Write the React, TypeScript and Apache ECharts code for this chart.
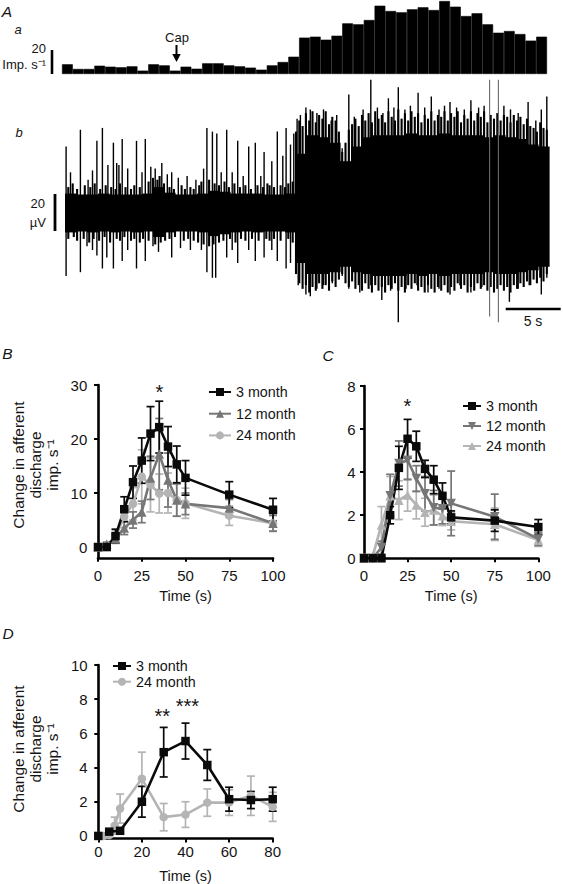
import React, { useEffect, useRef } from 'react';
import * as echarts from 'echarts';

const FONT = '"Liberation Sans", Arial, Helvetica, sans-serif';

// ---------- Panel A(a): rate histogram, imp/s in 1-s bins ----------
const histValues = [
  8.1, 4.2, 4.2, 6.9, 6.1, 5.6, 6.4, 2.8, 8.1, 7.2,
  2.8, 6.1, 4.4, 8.9, 8.9, 7.2, 6.4, 5.3, 3.6, 7.2,
  10, 14.4, 30.3, 31.1, 28.6, 31.9, 42.2, 41.4, 45, 56.9,
  52.5, 51.4, 53.9, 55.6, 53.3, 60.8, 56.1, 48.3, 50.6, 41.4,
  34.4, 35.8, 33.3, 27.8, 31.1,
];

// ---------- Panel A(b): raw nerve trace (µV), read as dense core + spikes ----------
const traceCoreTop = [
  10.5, 10, 10, 10.5, 10, 10, 10, 10.5, 14, 11, 10, 10, 10.5, 12, 11.5, 10.5, 10.5, 10.5, 10, 10, 10.5,
  32, 42, 41, 38, 28, 36, 41, 42, 42, 42, 43, 42, 42, 43, 42, 42, 42, 41, 42, 41, 40, 37, 36,
];
const traceCoreBottom = [
  -10.5, -10, -10.5, -10, -10.5, -10, -10.5, -10, -13, -10.5, -10, -10, -10.5, -12.5, -11.5, -10.5, -10, -10.5, -10, -10, -10.5,
  -27, -33, -33, -32, -29, -32, -33, -34, -34, -34, -33, -34, -33, -34, -33, -33, -33, -32, -33, -33, -32, -31, -29,
];
const traceUpSpikes = [
  [0.1, 36], [0.5, 22], [1.4, 45], [2.1, 18], [2.5, 23], [2.9, 39], [3.4, 46], [3.9, 26], [4.4, 38], [4.7, 27],
  [4.9, 26], [5.2, 40], [5.7, 24], [6.5, 39], [7.0, 22], [7.3, 40], [7.8, 25], [8.2, 24], [8.8, 27], [9.3, 21],
  [9.7, 22], [10.3, 19], [11.1, 20], [11.9, 18], [12.6, 24], [12.9, 46], [13.4, 44], [13.8, 43], [14.2, 22], [14.7, 45],
  [15.2, 22], [15.7, 39], [16.2, 20], [16.7, 36], [17.3, 38], [17.8, 20], [18.1, 33], [18.8, 28], [19.3, 44], [19.8, 31],
  [20.1, 46], [20.5, 37], [20.8, 43], [21.1, 51], [21.4, 53], [21.9, 57], [22.3, 56], [22.9, 54], [23.5, 56], [24.2, 50],
  [24.7, 53], [25.2, 35], [25.8, 64], [26.3, 52], [27.1, 56], [27.8, 72], [28.4, 57], [28.9, 54], [29.4, 62], [29.9, 57],
  [30.3, 68], [30.9, 56], [31.4, 58], [32.1, 65], [32.7, 57], [33.3, 63], [34.0, 56], [34.5, 58], [35.0, 60], [35.6, 57],
  [36.3, 56], [36.9, 61], [37.6, 57], [38.1, 58], [39.9, 58], [40.5, 56], [41.2, 54], [42.1, 60], [42.8, 50], [43.3, 56],
  [43.8, 63],
];
const traceDownSpikes = [
  [0.1, -34], [1.4, -32], [2.0, -18], [2.5, -20], [2.9, -23], [3.4, -30], [3.8, -24], [4.4, -30], [5.2, -26], [5.7, -20],
  [6.5, -30], [7.3, -26], [8.0, -18], [8.5, -21], [9.7, -24], [10.5, -19], [11.4, -20], [12.4, -20], [12.9, -32], [13.4, -35],
  [13.7, -35], [14.7, -24], [15.2, -20], [15.7, -27], [16.7, -20], [17.3, -26], [18.1, -24], [18.8, -20], [19.3, -26], [20.1, -30],
  [20.5, -27], [21.2, -39], [21.9, -44], [22.3, -45], [22.9, -41], [23.5, -39], [24.3, -38], [25.2, -34], [25.8, -41], [26.8, -43],
  [27.8, -39], [28.8, -47], [29.6, -42], [30.3, -59], [31.0, -41], [32.0, -39], [33.0, -43], [34.0, -41], [35.0, -44], [35.9, -39],
  [36.9, -43], [37.9, -40], [40.4, -48], [41.2, -41], [42.2, -39], [43.3, -44], [43.8, -35],
];
// ragged fringe along the edges of the dense band
const traceFringeUp = [
  [0.3, 14], [0.7, 16], [1.1, 13], [1.8, 15], [2.3, 14], [2.7, 16], [3.2, 13], [3.7, 15], [4.2, 14], [4.6, 13],
  [5.0, 16], [5.5, 14], [6.0, 13], [6.3, 15], [6.8, 14], [7.6, 17], [8.0, 19], [8.4, 18], [8.6, 20], [9.0, 16],
  [9.5, 14], [9.9, 13], [10.6, 15], [10.9, 13], [11.4, 14], [11.7, 13], [12.2, 15], [12.4, 17], [13.1, 18], [13.6, 16],
  [14.0, 15], [14.5, 17], [14.9, 14], [15.4, 16], [15.9, 14], [16.4, 15], [16.9, 13], [17.5, 15], [18.0, 14], [18.4, 16],
  [18.6, 15], [19.0, 14], [19.6, 15], [20.0, 14], [20.3, 16], [20.7, 17],
  [21.0, 44], [21.3, 50], [21.6, 47], [21.9, 54], [22.2, 50], [22.5, 55], [22.8, 49], [23.1, 53], [23.4, 51], [23.7, 55],
  [24.0, 48], [24.3, 52], [24.6, 50], [24.9, 44], [25.2, 33], [25.5, 38], [25.8, 45], [26.1, 48], [26.4, 51], [26.7, 47],
  [27.0, 53], [27.3, 50], [27.6, 54], [27.9, 49], [28.2, 55], [28.5, 51], [28.8, 53], [29.1, 49], [29.4, 55], [29.7, 52],
  [30.0, 50], [30.3, 56], [30.6, 51], [30.9, 54], [31.2, 50], [31.5, 55], [31.8, 52], [32.1, 54], [32.4, 49], [32.7, 53],
  [33.0, 51], [33.3, 55], [33.6, 50], [33.9, 53], [34.2, 52], [34.5, 55], [34.8, 50], [35.1, 54], [35.4, 52], [35.7, 55],
  [36.0, 49], [36.3, 53], [36.6, 51], [36.9, 55], [37.2, 50], [37.5, 54], [37.8, 52], [38.1, 55], [38.4, 49], [38.7, 53],
  [39.0, 51], [39.3, 54], [39.6, 50], [39.9, 53], [40.2, 52], [40.5, 49], [40.8, 53], [41.1, 50], [41.4, 52], [41.7, 48],
  [42.0, 51], [42.3, 47], [42.6, 46], [42.9, 44], [43.2, 49], [43.5, 46], [43.8, 45],
];
const traceFringeDown = [
  [0.3, -14], [0.8, -13], [1.1, -15], [1.7, -14], [2.2, -16], [2.6, -14], [3.1, -15], [3.6, -13], [4.1, -16], [4.7, -14],
  [5.0, -15], [5.4, -13], [6.0, -15], [6.3, -14], [6.8, -16], [7.1, -14], [7.6, -15], [8.2, -17], [8.7, -16], [9.1, -15],
  [9.5, -14], [10.0, -13], [10.8, -15], [11.2, -14], [11.7, -15], [12.1, -16], [12.6, -17], [13.1, -18], [13.5, -17], [14.0, -16],
  [14.4, -15], [15.0, -14], [15.5, -16], [16.0, -14], [16.4, -15], [17.0, -14], [17.6, -15], [18.3, -14], [18.6, -15], [19.0, -14],
  [19.6, -15], [20.3, -14], [20.7, -16],
  [21.0, -33], [21.3, -38], [21.6, -41], [21.9, -39], [22.2, -43], [22.5, -40], [22.8, -42], [23.1, -38], [23.4, -41], [23.7, -39],
  [24.0, -42], [24.3, -37], [24.6, -40], [24.9, -36], [25.2, -33], [25.5, -38], [25.8, -40], [26.1, -37], [26.4, -41], [26.7, -39],
  [27.0, -42], [27.3, -38], [27.6, -41], [27.9, -43], [28.2, -39], [28.5, -42], [28.8, -40], [29.1, -43], [29.4, -39], [29.7, -41],
  [30.0, -38], [30.3, -42], [30.6, -40], [30.9, -43], [31.2, -39], [31.5, -41], [31.8, -38], [32.1, -42], [32.4, -40], [32.7, -43],
  [33.0, -39], [33.3, -41], [33.6, -43], [33.9, -40], [34.2, -42], [34.5, -39], [34.8, -43], [35.1, -40], [35.4, -42], [35.7, -38],
  [36.0, -41], [36.3, -39], [36.6, -43], [36.9, -40], [37.2, -42], [37.5, -38], [37.8, -41], [38.1, -39], [38.4, -42], [38.7, -40],
  [39.0, -43], [39.3, -41], [39.6, -39], [39.9, -42], [40.2, -40], [40.5, -43], [40.8, -39], [41.1, -41], [41.4, -38], [41.7, -40],
  [42.0, -37], [42.3, -39], [42.6, -36], [42.9, -38], [43.2, -35], [43.5, -37], [43.8, -33],
];
const traceGreySpikes = [
  [38.6, 72, -56],
  [39.4, 72, -59],
];

// ---------- Panel B ----------
const timeB = [0, 5, 10, 15, 20, 25, 30, 35, 40, 45, 50, 75, 100];
const b3m = [0, 0, 2, 7, 12, 16, 21, 22.2, 18.6, 15.3, 12.8, 9.7, 6.9];
const b3mSem = [0, 0.6, 1.3, 2.3, 3, 4.2, 5, 4.8, 3.7, 3.4, 3.2, 2.4, 2.1];
const b12m = [0, 0.5, 1.5, 3.5, 5, 6.5, 12.8, 17.2, 12.4, 8.7, 8, 7.2, 4.4];
const b12mSem = [0, 0.4, 0.8, 1.2, 1.5, 2, 4, 6.6, 5, 3, 2, 1.6, 1.5];
const b24m = [0, 0.3, 2, 5.6, 8, 13, 11.5, 9.9, 10, 8.7, 8.1, 5.8, 4.4];
const b24mSem = [0, 0.4, 1, 2, 3, 5, 5, 3.6, 3.7, 3, 2.8, 1.8, 1.4];

// ---------- Panel C ----------
const timeC = [0, 5, 10, 15, 20, 25, 30, 35, 40, 45, 50, 75, 100];
const c3m = [0, 0, 0, 2.0, 4.2, 5.55, 5.2, 4.15, 3.65, 2.9, 1.9, 1.75, 1.45];
const c3mSem = [0, 0.05, 0.05, 0.4, 1.0, 0.9, 0.7, 0.4, 0.65, 0.6, 0.3, 0.5, 0.35];
const c12m = [0, 0, 0.5, 2.9, 4.4, 4.55, 3.7, 3.0, 2.35, 2.3, 2.55, 1.93, 0.9];
const c12mSem = [0, 0.05, 0.3, 1.0, 1.05, 0.9, 0.6, 0.8, 0.8, 0.7, 1.5, 1.05, 0.3];
const c24m = [0, 0.1, 1.55, 2.9, 2.7, 2.94, 2.48, 2.14, 2.24, 1.97, 1.72, 1.58, 0.85];
const c24mSem = [0, 0.05, 0.85, 0.9, 0.9, 0.75, 0.65, 0.65, 0.7, 0.45, 0.4, 0.75, 0.3];

// ---------- Panel D ----------
const timeD3 = [0, 5, 10, 20, 30, 40, 50, 60, 70, 80];
const d3m = [0, 0.25, 0.3, 2.0, 4.9, 5.55, 4.15, 2.15, 2.1, 2.15];
const d3mSem = [0, 0.1, 0.15, 0.9, 1.45, 1.05, 0.9, 0.7, 0.5, 0.7];
const timeD24 = [0, 2.5, 5, 7.5, 10, 20, 30, 40, 50, 60, 70, 80];
const d24m = [0, 0, 0.05, 0.6, 1.6, 3.35, 1.1, 1.25, 1.95, 1.95, 2.35, 1.7];
const d24mSem = [0, 0, 0.1, 0.5, 0.85, 1.55, 0.8, 0.75, 0.8, 0.75, 1.15, 0.85];

const BLACK = '#0a0a0a';
const DARK = '#767676';
const LIGHT = '#b4b4b4';
const TXT = '#141414';

type Group = {
  label: string;
  times: number[];
  values: number[];
  sem: number[];
  color: string;
  symbol: string;
  rotate?: number;
};

function errSeries(prefix: string, idx: number, g: Group) {
  return {
    type: 'custom',
    name: prefix + '|err|' + g.label,
    xAxisIndex: idx,
    yAxisIndex: idx,
    encode: { x: 0, y: 1 },
    data: g.times.map((t, i) => [t, g.values[i], g.sem[i]]),
    renderItem: (params: any, api: any) => {
      const x = api.value(0);
      const y = api.value(1);
      const e = api.value(2);
      if (!e) return null;
      const hi = api.coord([x, y + e]);
      const lo = api.coord([x, y - e]);
      const w = 4;
      const style = { stroke: g.color, lineWidth: 1.7, fill: null };
      return {
        type: 'group',
        children: [
          { type: 'line', shape: { x1: hi[0], y1: hi[1], x2: lo[0], y2: lo[1] }, style },
          { type: 'line', shape: { x1: hi[0] - w, y1: hi[1], x2: hi[0] + w, y2: hi[1] }, style },
          { type: 'line', shape: { x1: lo[0] - w, y1: lo[1], x2: lo[0] + w, y2: lo[1] }, style },
        ],
      };
    },
  };
}

function lineSeries(prefix: string, idx: number, g: Group) {
  return {
    type: 'line',
    name: prefix + '|' + g.label,
    xAxisIndex: idx,
    yAxisIndex: idx,
    data: g.times.map((t, i) => [t, g.values[i]]),
    symbol: g.symbol,
    symbolSize: g.symbol === 'triangle' ? 9.5 : 8.5,
    symbolRotate: g.rotate || 0,
    showSymbol: true,
    lineStyle: { color: g.color, width: 2.6 },
    itemStyle: { color: g.color },
    z: 3,
  };
}

function panelSeries(prefix: string, idx: number, groups: Group[]) {
  const out: any[] = [];
  groups.forEach((g) => {
    out.push(errSeries(prefix, idx, g));
    out.push(lineSeries(prefix, idx, g));
  });
  return out;
}

function valueXAxis(idx: number, max: number, interval: number, margin: number, nameGap: number) {
  return {
    type: 'value',
    gridIndex: idx,
    min: 0,
    max,
    interval,
    name: 'Time (s)',
    nameLocation: 'middle',
    nameGap,
    nameTextStyle: { fontSize: 14.5, color: TXT, fontFamily: FONT },
    axisLine: { show: true, onZero: false, lineStyle: { color: '#000', width: 2.6 } },
    axisTick: { show: true, length: 4, lineStyle: { color: '#000', width: 2 } },
    axisLabel: { fontSize: 15, color: TXT, fontFamily: FONT, margin },
    splitLine: { show: false },
  };
}

function valueYAxis(idx: number, min: number, max: number, ticks: number[], margin: number) {
  return {
    type: 'value',
    gridIndex: idx,
    min,
    max,
    axisLine: { show: true, onZero: false, lineStyle: { color: '#000', width: 2.6 } },
    axisTick: { show: true, length: 4, lineStyle: { color: '#000', width: 2 }, customValues: ticks },
    axisLabel: { fontSize: 15, color: TXT, fontFamily: FONT, margin, customValues: ticks },
    splitLine: { show: false },
  };
}

function legendFor(names: string[], left: number, top: number, itemWidth: number, gap: number, lineHeight: number) {
  return {
    orient: 'vertical',
    left,
    top,
    padding: 0,
    itemWidth,
    itemHeight: 10,
    itemGap: gap,
    selectedMode: false,
    data: names,
    formatter: (n: string) => n.split('|')[1],
    textStyle: { fontSize: 14.3, lineHeight, color: TXT, fontFamily: FONT },
  };
}

function txt(text: string, x: number, y: number, size: number, opts: any = {}) {
  return {
    type: 'text',
    x,
    y,
    rotation: opts.rotation || 0,
    style: {
      text,
      fill: TXT,
      font: `${opts.italic ? 'italic ' : ''}${size}px ${FONT}`,
      align: opts.align || 'center',
      verticalAlign: 'middle',
      lineHeight: opts.lineHeight,
    },
  };
}

function vline(x: number, y1: number, y2: number, w: number) {
  return { type: 'line', shape: { x1: x, y1, x2: x, y2 }, style: { stroke: '#000', lineWidth: w } };
}

export default function App() {
  const ref = useRef<HTMLDivElement>(null);

  useEffect(() => {
    if (!ref.current) return;
    const chart = echarts.init(ref.current, undefined, { renderer: 'svg' });

    const bGroups: Group[] = [
      { label: '24 month', times: timeB, values: b24m, sem: b24mSem, color: LIGHT, symbol: 'circle' },
      { label: '12 month', times: timeB, values: b12m, sem: b12mSem, color: DARK, symbol: 'triangle' },
      { label: '3 month', times: timeB, values: b3m, sem: b3mSem, color: BLACK, symbol: 'rect' },
    ];
    const cGroups: Group[] = [
      { label: '24 month', times: timeC, values: c24m, sem: c24mSem, color: LIGHT, symbol: 'triangle' },
      { label: '12 month', times: timeC, values: c12m, sem: c12mSem, color: DARK, symbol: 'triangle', rotate: 180 },
      { label: '3 month', times: timeC, values: c3m, sem: c3mSem, color: BLACK, symbol: 'rect' },
    ];
    const dGroups: Group[] = [
      { label: '24 month', times: timeD24, values: d24m, sem: d24mSem, color: LIGHT, symbol: 'circle' },
      { label: '3 month', times: timeD3, values: d3m, sem: d3mSem, color: BLACK, symbol: 'rect' },
    ];

    const spikeRender = (color: string, width: number) => (params: any, api: any) => {
      const t = api.value(0);
      const a = api.coord([t, 0]);
      const b = api.coord([t, api.value(1)]);
      return { type: 'line', shape: { x1: a[0], y1: a[1], x2: b[0], y2: b[1] }, style: { stroke: color, lineWidth: width } };
    };

    const spikeSeries = (name: string, data: number[][], width: number) => ({
      type: 'custom',
      name,
      xAxisIndex: 1,
      yAxisIndex: 1,
      encode: { x: 0, y: 1 },
      data,
      renderItem: spikeRender('#000', width),
    });

    const option: any = {
      animation: false,
      backgroundColor: '#fff',
      textStyle: { fontFamily: FONT },
      grid: [
        { left: 62, top: 0, width: 485, height: 74 },
        { left: 65, top: 74.25, width: 484, height: 259 },
        { left: 98, top: 385, width: 175, height: 172.8 },
        { left: 364, top: 386, width: 174.3, height: 172.3 },
        { left: 98.3, top: 665, width: 174.4, height: 174.9 },
      ],
      xAxis: [
        { type: 'category', gridIndex: 0, data: histValues.map((_, i) => i), show: false },
        { type: 'value', gridIndex: 1, min: 0, max: 44, show: false },
        valueXAxis(2, 100, 25, 10.5, 31),
        valueXAxis(3, 100, 25, 9.5, 30),
        valueXAxis(4, 80, 20, 5.5, 29.5),
      ],
      yAxis: [
        { type: 'value', gridIndex: 0, min: 0, max: 61.67, show: false },
        { type: 'value', gridIndex: 1, min: -65, max: 75, show: false },
        valueYAxis(2, -2, 30, [0, 10, 20, 30], 10.7),
        valueYAxis(3, 0, 8, [0, 2, 4, 6, 8], 8.3),
        valueYAxis(4, -0.15, 10, [0, 2, 4, 6, 8, 10], 10.7),
      ],
      legend: [
        legendFor(['B|3 month', 'B|12 month', 'B|24 month'], 208, 384, 22, 5.7, 16),
        legendFor(['C|3 month', 'C|12 month', 'C|24 month'], 462, 398, 18, 4, 16),
        legendFor(['D|3 month', 'D|24 month'], 112, 658.5, 18, 0.7, 15),
      ],
      series: [
        {
          type: 'bar',
          name: 'hist',
          xAxisIndex: 0,
          yAxisIndex: 0,
          data: histValues,
          barWidth: '100%',
          barCategoryGap: '0%',
          itemStyle: { color: '#000', borderColor: '#000', borderWidth: 0.6 },
        },
        {
          type: 'custom',
          name: 'traceCore',
          xAxisIndex: 1,
          yAxisIndex: 1,
          encode: { x: 0, y: [1, 2] },
          data: traceCoreTop.map((v, i) => [i, v, traceCoreBottom[i]]),
          renderItem: (params: any, api: any) => {
            const t = api.value(0);
            const p1 = api.coord([t, api.value(1)]);
            const p2 = api.coord([t + 1, api.value(2)]);
            return {
              type: 'rect',
              shape: { x: p1[0], y: p1[1], width: p2[0] - p1[0] + 0.6, height: p2[1] - p1[1] },
              style: { fill: '#000' },
            };
          },
        },
        spikeSeries('traceFringeUp', traceFringeUp, 2.1),
        spikeSeries('traceFringeDown', traceFringeDown, 2.1),
        spikeSeries('traceUp', traceUpSpikes, 1.4),
        spikeSeries('traceDown', traceDownSpikes, 1.4),
        {
          type: 'custom',
          name: 'traceGrey',
          xAxisIndex: 1,
          yAxisIndex: 1,
          encode: { x: 0, y: [1, 2] },
          data: traceGreySpikes,
          renderItem: (params: any, api: any) => {
            const t = api.value(0);
            const a = api.coord([t, api.value(1)]);
            const b = api.coord([t, api.value(2)]);
            return { type: 'line', shape: { x1: a[0], y1: a[1], x2: b[0], y2: b[1] }, style: { stroke: '#6a6a6a', lineWidth: 1.1 } };
          },
        },
        ...panelSeries('B', 2, bGroups),
        ...panelSeries('C', 3, cGroups),
        ...panelSeries('D', 4, dGroups),
      ],
      graphic: [
        txt('A', 7, 11, 15.5, { italic: true }),
        txt('a', 18, 29, 13, { italic: true }),
        txt('b', 19, 132, 13, { italic: true }),
        txt('B', 7.5, 353, 15.5, { italic: true }),
        txt('C', 328, 355, 15.5, { italic: true }),
        txt('D', 8, 633, 15.5, { italic: true }),
        // histogram scale bar
        vline(52, 50, 74, 2.6),
        txt('20', 46, 48, 13, { align: 'right' }),
        txt('Imp. s⁻¹', 46, 64, 13, { align: 'right' }),
        // trace scale bar
        vline(55, 194, 231, 2.8),
        txt('20', 45, 203, 13, { align: 'right' }),
        txt('µV', 46, 222.5, 13, { align: 'right' }),
        // Cap marker
        txt('Cap', 177, 37, 13),
        vline(176.5, 45, 56, 2),
        { type: 'polygon', shape: { points: [[172.3, 54], [180.7, 54], [176.5, 62]] }, style: { fill: '#000' } },
        // time scale bar
        { type: 'line', shape: { x1: 505.7, y1: 309, x2: 560.7, y2: 309 }, style: { stroke: '#000', lineWidth: 2.7 } },
        txt('5 s', 533, 321, 14),
        // y-axis titles
        txt('Change in afferent\ndischarge\nimp. s⁻¹', 35, 465, 15.5, { rotation: Math.PI / 2, lineHeight: 17 }),
        txt('Change in afferent\ndischarge\nimp. s⁻¹', 35, 749, 15.5, { rotation: Math.PI / 2, lineHeight: 17 }),
        // significance marks
        txt('*', 159.3, 391.5, 20),
        txt('*', 407.3, 405.5, 20),
        txt('**', 162.3, 716, 20),
        txt('***', 187.3, 706, 20),
      ],
    };

    chart.setOption(option);
    return () => chart.dispose();
  }, []);

  return (
    <div
      ref={ref}
      style={{ position: 'fixed', left: 0, top: 0, width: 563, height: 884, background: '#fff' }}
    />
  );
}
